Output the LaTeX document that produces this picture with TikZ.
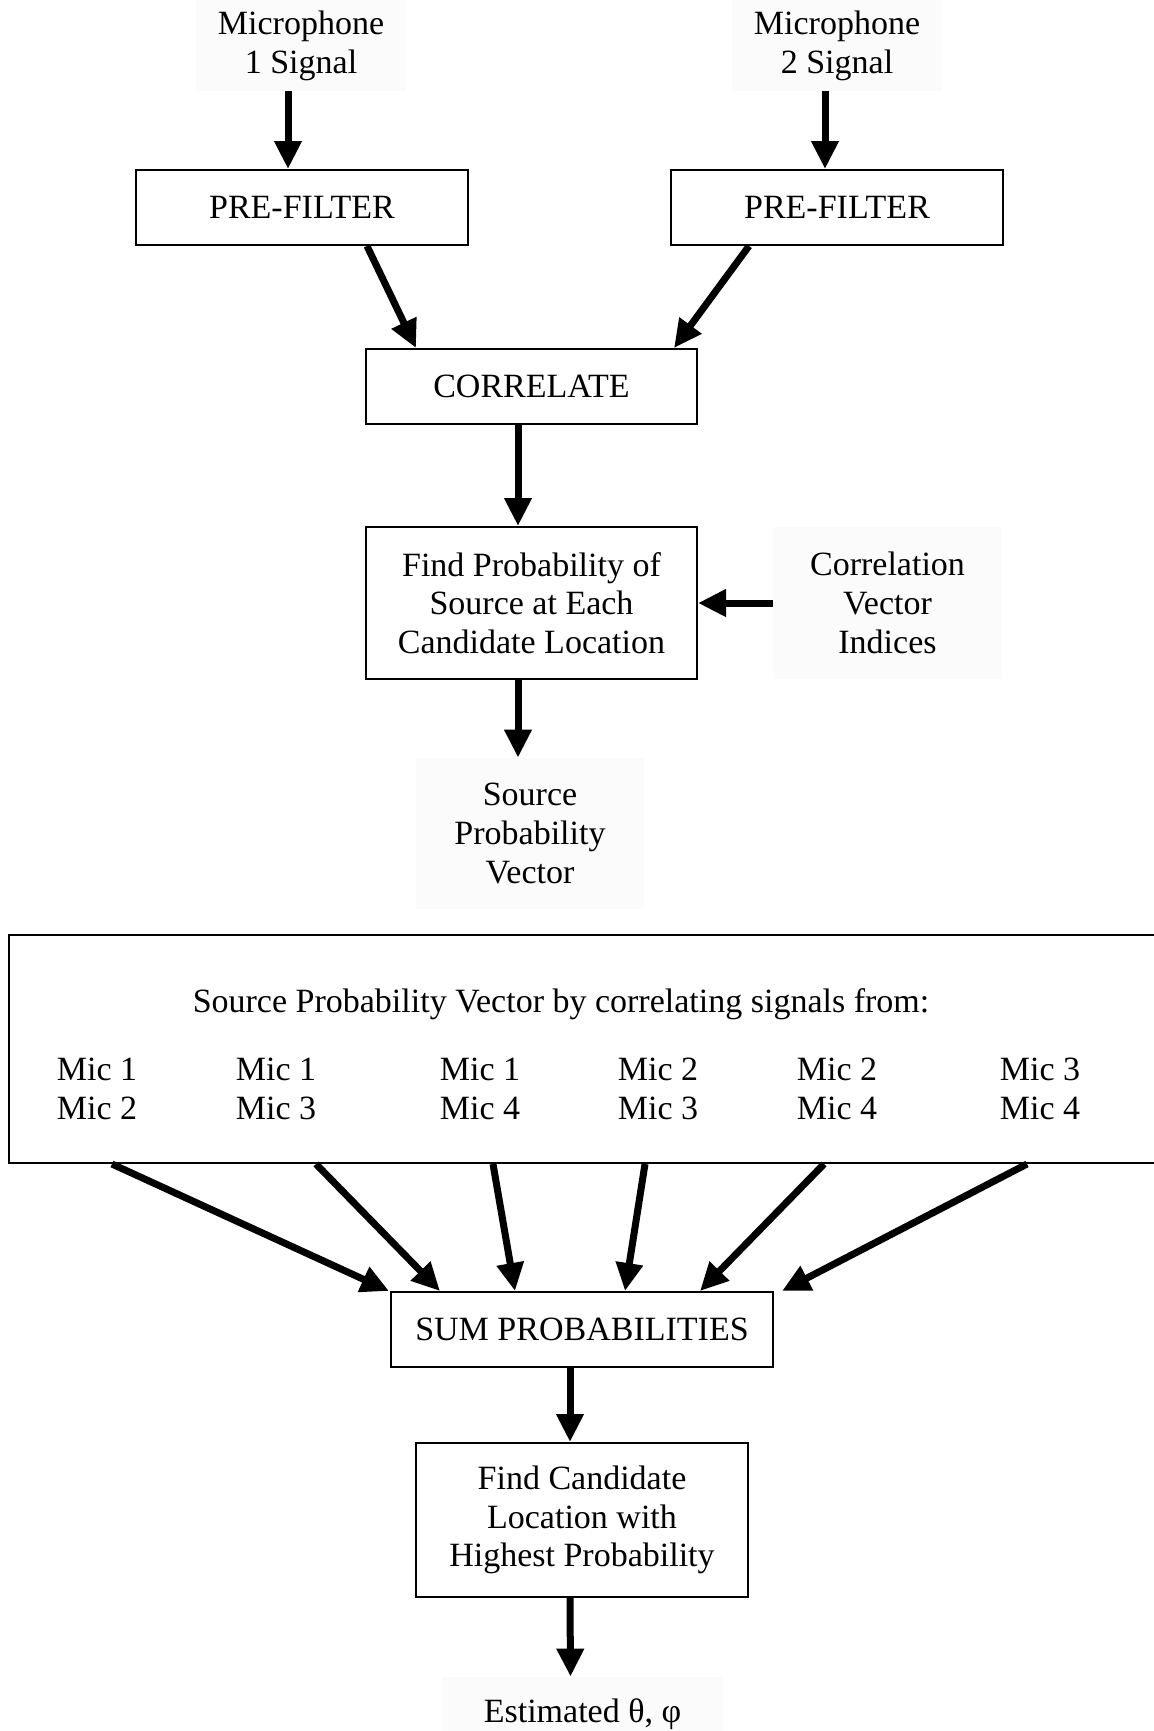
\documentclass[tikz,border=0pt]{standalone}
\usepackage{fontspec}
\setmainfont{Liberation Serif}
\usetikzlibrary{arrows.meta}

\tikzset{
  txt/.style={font=\fontsize{17}{19.4}\selectfont, align=center, inner sep=0pt},
  blk/.style={txt, draw, line width=1pt},
  lbl/.style={txt, fill=black!1.5},
  flow/.style={line width=3.5pt, -{Triangle[length=14pt,width=13pt]}},
}

\begin{document}
\begin{tikzpicture}[x=0.5pt, y=-0.5pt]
\useasboundingbox (0,0) rectangle (1154,1731);

% inputs
\node[lbl, minimum width=105pt, minimum height=45.5pt] (mic1) at (301,45.5) {Microphone\\1 Signal};
\node[lbl, minimum width=105pt, minimum height=45.5pt] (mic2) at (837,45.5) {Microphone\\2 Signal};

% processing chain
\node[blk, minimum width=166pt, minimum height=37.5pt] (pf1) at (302,207.5) {PRE-FILTER};
\node[blk, minimum width=166pt, minimum height=37.5pt] (pf2) at (837,207.5) {PRE-FILTER};
\node[blk, minimum width=165.5pt, minimum height=37.5pt] (cor) at (531.5,386.5) {CORRELATE};
\node[blk, minimum width=165.5pt, minimum height=76pt] (find) at (531.5,603) {Find Probability of\\Source at Each\\Candidate Location};
\node[lbl, minimum width=114.5pt, minimum height=76pt] (cvi) at (887.5,603) {Correlation\\Vector\\Indices};
\node[lbl, minimum width=114pt, minimum height=75.5pt] (spv) at (530,833.5) {Source\\Probability\\Vector};

% combination over microphone pairs
\node[draw, line width=1pt, minimum width=575.5pt, minimum height=114pt, inner sep=0pt] (big) at (584.5,1049) {};
\node[txt] (head) at (561,1004) {Source Probability Vector by correlating signals from:};
\node[txt] (p12) at (97,1089) {Mic 1\\Mic 2};
\node[txt] (p13) at (276,1089) {Mic 1\\Mic 3};
\node[txt] (p14) at (480,1089) {Mic 1\\Mic 4};
\node[txt] (p23) at (658,1089) {Mic 2\\Mic 3};
\node[txt] (p24) at (837,1089) {Mic 2\\Mic 4};
\node[txt] (p34) at (1040,1089) {Mic 3\\Mic 4};

\node[blk, minimum width=191pt, minimum height=37.5pt] (sum) at (582,1329.5) {SUM PROBABILITIES};
\node[blk, minimum width=166pt, minimum height=77pt] (fc) at (582,1520) {Find Candidate\\Location with\\Highest Probability};
\node[lbl, minimum width=140.5pt, minimum height=37pt] (est) at (582.5,1714) {Estimated θ, φ};

% connectors
\draw[flow] ([xshift=-6.5pt]mic1.south) -- ([xshift=-7pt]pf1.north);
\draw[flow] ([xshift=-6pt]mic2.south) -- ([xshift=-6pt]pf2.north);
\draw[flow] ([xshift=32.5pt]pf1.south) -- ([xshift=-57.75pt]cor.north);
\draw[flow] ([xshift=-44pt]pf2.south) -- ([xshift=71.25pt]cor.north);
\draw[flow] ([xshift=-6.75pt]cor.south) -- ([xshift=-6.75pt]find.north);
\draw[flow] (cvi.west) -- (find.east);
\draw[flow] ([xshift=-6.75pt]find.south) -- ([xshift=-6pt]spv.north);

\draw[flow] ([xshift=-236.25pt]big.south) -- ([xshift=-96.5pt]sum.north);
\draw[flow] ([xshift=-134.25pt]big.south) -- ([xshift=-71pt]sum.north);
\draw[flow] ([xshift=-45.75pt]big.south) -- ([xshift=-33.5pt]sum.north);
\draw[flow] ([xshift=30.25pt]big.south) -- ([xshift=21.5pt]sum.north);
\draw[flow] ([xshift=119.75pt]big.south) -- ([xshift=59pt]sum.north);
\draw[flow] ([xshift=221.25pt]big.south) -- ([xshift=100pt]sum.north);

\draw[flow] ([xshift=-6pt]sum.south) -- ([xshift=-6pt]fc.north);
\draw[flow] ([xshift=-6pt]fc.south) -- ([xshift=-6pt]est.north);
\end{tikzpicture}
\end{document}
